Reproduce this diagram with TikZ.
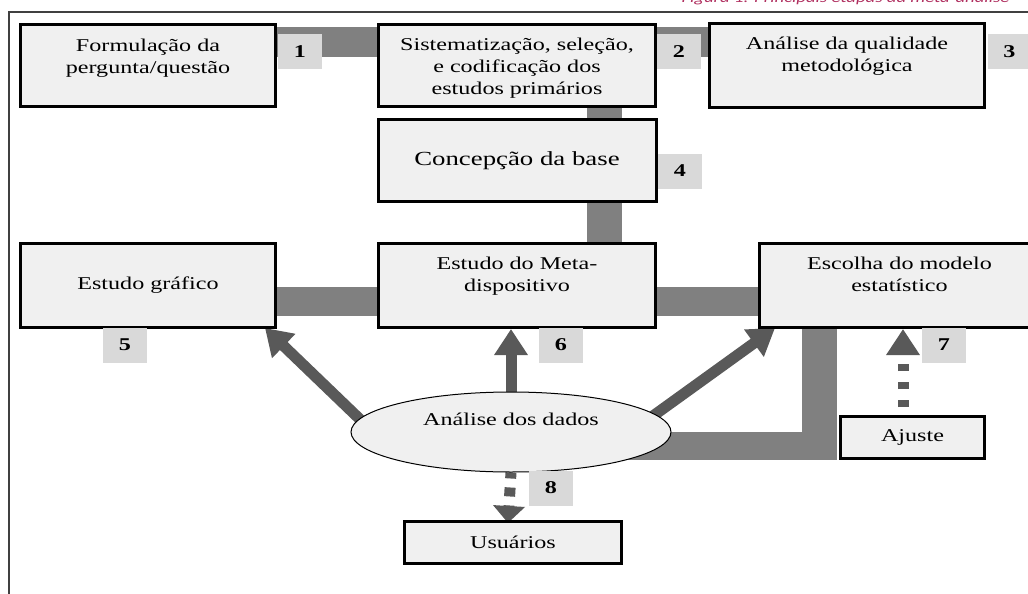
\documentclass[tikz,border=0pt]{standalone}
\usepackage{fontspec}
\setmainfont{Liberation Serif}[FakeStretch=1.34]
\newfontfamily\legendafont{Carlito}[FakeStretch=1.34]
\usetikzlibrary{positioning,shapes.geometric,arrows.meta,backgrounds,calc}

\definecolor{caixa}{RGB}{240,240,240}
\definecolor{etiqueta}{RGB}{217,217,217}
\definecolor{barra}{RGB}{128,128,128}
\definecolor{corseta}{RGB}{89,89,89}
\definecolor{legenda}{RGB}{176,48,96}

\tikzset{
  etapa/.style={draw=black, line width=3pt, fill=caixa, inner sep=0pt,
    align=center, font=\fontsize{18}{22}\selectfont},
  num/.style={fill=etiqueta, inner sep=0pt, minimum width=44pt,
    minimum height=35pt, font=\fontsize{18}{18}\selectfont\bfseries},
  elo/.style={draw=barra, line cap=butt},
  fluxo/.style={draw=corseta, line width=11pt, line cap=butt,
    -{Triangle[length=26pt,width=32pt]}},
  fluxopont/.style={fluxo, dash pattern=on 7pt off 11pt},
}

\begin{document}
\begin{tikzpicture}[x=1pt,y=-1pt]
\useasboundingbox (0,0) rectangle (1028,594);
\node[anchor=base west, text=legenda,
  font=\legendafont\itshape\fontsize{14}{14}\selectfont] (titulo) at (678,3)
  {Figura 1: Principais etapas da meta-análise};

% linha de cima
\node[etapa, anchor=north west, minimum width=255pt, text height=49.5pt,
  text depth=32.5pt] (formul) at (19,23) {Formulação da\\pergunta/questão};
\node[etapa, right=100pt of formul, minimum width=277pt, text height=70.5pt,
  text depth=11.5pt] (sistem) {Sistematização, seleção,\\e codificação dos\\estudos primários};
\node[etapa, right=51pt of sistem, minimum width=275pt, text height=48pt,
  text depth=35pt] (analise) {Análise da qualidade\\metodológica};
\node[etapa, below=10pt of sistem, minimum width=278pt, minimum height=82pt,
  font=\fontsize{20}{24}\selectfont] (concep) {Concepção da base};

% linha do meio
\node[etapa, below=39pt of concep, minimum width=277pt, text height=47.5pt,
  text depth=36.5pt] (meta) {Estudo do Meta-\\dispositivo};
\node[etapa, left=100pt of meta, minimum width=255pt, minimum height=84pt] (grafico) {Estudo gráfico};
\node[etapa, right=101pt of meta, minimum width=280pt, text height=47.5pt,
  text depth=36.5pt] (modelo) {Escolha do modelo\\estatístico};

% linha de baixo
\node[ellipse, draw=black, line width=1pt, fill=caixa, inner sep=0pt,
  minimum width=320pt, minimum height=80pt, text height=13pt, text depth=27pt,
  font=\fontsize{18}{22}\selectfont] (dados) at (511,432) {Análise dos dados};
\node[etapa, minimum width=144pt, minimum height=42pt] (ajuste) at (912.5,437.5) {Ajuste};
\node[etapa, minimum width=217pt, minimum height=42pt] (usuarios) at (513,542.5) {Usuários};

% numeros
\node[num] (n1) at (300,52) {1};
\node[num] (n2) at (679,52) {2};
\node[num] (n3) at (1009.5,52) {3};
\node[num] (n4) at (680,171) {4};
\node[num] (n5) at (125,345) {5};
\node[num] (n6) at (561,345) {6};
\node[num] (n7) at (944,345) {7};
\node[num] (n8) at (551,488) {8};

\begin{scope}[on background layer]
  \fill[white] (0,0) rectangle (1028,594);
  \draw[black!75, line width=2pt] (9,620) |- (1040,12);
  % barras
  \draw[elo, line width=30pt] ([shift={(0,19)}]formul.north east) coordinate (e1) -- (e1 -| sistem.west);
  \draw[elo, line width=30pt] ([shift={(0,19)}]sistem.north east) coordinate (e2) -- (e2 -| analise.west);
  \draw[elo, line width=35pt] ([shift={(87.5,0)}]sistem.south) coordinate (e3) -- (e3 |- concep.north);
  \draw[elo, line width=35pt] ([shift={(87.5,0)}]concep.south) coordinate (e4) -- (e4 |- meta.north);
  \draw[elo, line width=29pt] ([shift={(0,59.5)}]grafico.north east) coordinate (e5) -- (e5 -| meta.west);
  \draw[elo, line width=29pt] ([shift={(0,59.5)}]meta.north east) coordinate (e6) -- (e6 -| modelo.west);
  \draw[elo, line width=35pt] ([shift={(61.5,0)}]modelo.south west) coordinate (e7) -- (e7 |- ajuste.south);
  \coordinate (canto) at ([shift={(17.5,-14)}]e7 |- ajuste.south);
  \draw[elo, line width=28pt] (canto) -- (canto -| dados.center);
  % setas
  \coordinate (p5) at ([shift={(-12,-1)}]grafico.south east);
  \coordinate (p7) at ([shift={(17,-1)}]modelo.south west);
  \draw[fluxo] ($(dados.175.5)!-12pt!(p5)$) -- (p5);
  \draw[fluxo] ([shift={(0,10)}]dados.north) -- (dados.north |- meta.south);
  \draw[fluxo] ($(dados.7.7)!-12pt!(p7)$) -- (p7);
  \coordinate (aj) at ([shift={(-9.5,0)}]ajuste.north);
  \draw[fluxopont, dash phase=10pt] (aj) -- (aj |- modelo.south);
  \draw[fluxopont, dash pattern=on 9pt off 9pt, dash phase=3pt,
    -{Triangle[length=17pt,width=31pt]}] (dados.south) -- ([shift={(-5,3)}]usuarios.north);
\end{scope}
\end{tikzpicture}
\end{document}
